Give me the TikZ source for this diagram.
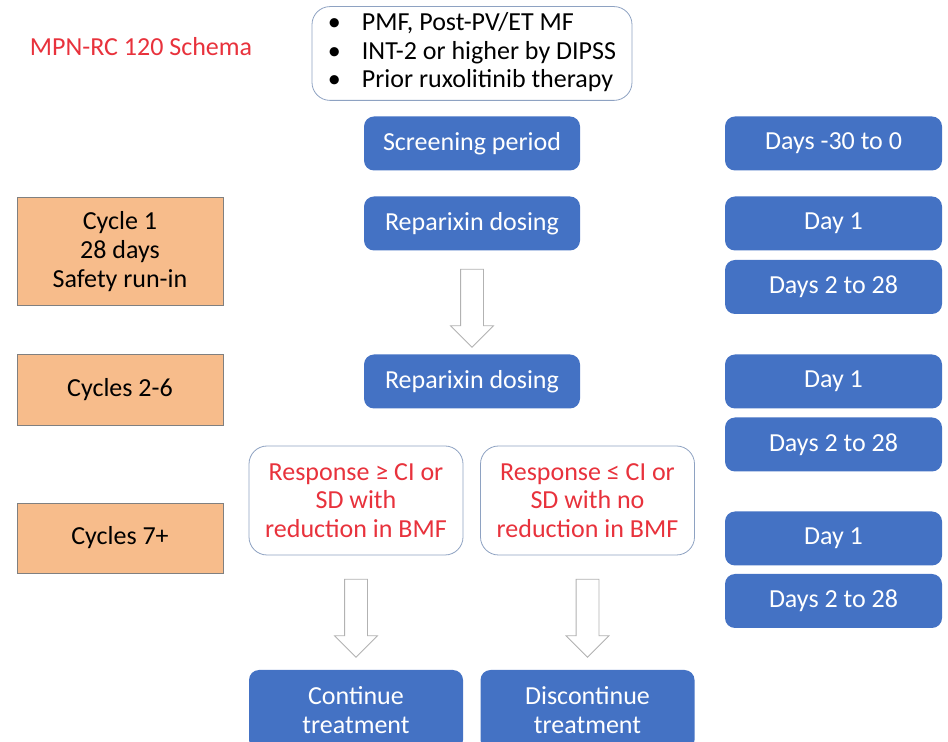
\documentclass[tikz,border=0pt]{standalone}
\usepackage{fontspec}
\setmainfont{Carlito}
\usetikzlibrary{shapes.arrows,calc}

\definecolor{stepblue}{HTML}{4472C4}
\definecolor{cycleorange}{HTML}{F7BC8B}
\definecolor{schemared}{HTML}{E8323C}
\definecolor{outline}{HTML}{8EA2C2}

\tikzset{
	bluebox/.style={rectangle, rounded corners=5pt, fill=stepblue, text=white, minimum width=108pt, minimum height=27pt},
	cyclebox/.style={rectangle, fill=cycleorange, draw=gray, minimum width=103pt},
	outcomebox/.style={rectangle, rounded corners=9pt, draw=outline, fill=white, text=schemared, minimum width=107pt, minimum height=54.5pt},
	hollow/.style={single arrow, draw=gray!60, fill=white, rotate=-90, minimum height=39pt, minimum width=21pt, inner sep=5.5pt, single arrow head extend=5pt}
}

\begin{document}
\begin{tikzpicture}[x=0.5pt, y=-0.5pt, every node/.style={font=\fontsize{13}{14.3}\selectfont, align=center, inner sep=2pt}]
		\useasboundingbox (0,0) rectangle (948,742);

		\node[text=schemared] (title) at (141,47) {MPN-RC 120 Schema};
		\node[outcomebox, text=black, minimum width=160pt, minimum height=43.5pt] (criteria) at (472,53.5) {%
			\begin{tabular}{@{}l@{\hspace{10.5pt}}l@{}}
				\textbullet & PMF, Post-PV/ET MF\\
				\textbullet & INT-2 or higher by DIPSS\\
				\textbullet & Prior ruxolitinib therapy
			\end{tabular}};

		\node[bluebox] (screen) at (472,143.5) {Screening period};
		\node[bluebox] (dose1) at (472,223.5) {Reparixin dosing};
		\node[bluebox] (dose2) at (472,381.5) {Reparixin dosing};

		\node[cyclebox, minimum height=54pt] (cycle1) at (120,251.5) {Cycle 1\\28 days\\Safety run-in};
		\node[cyclebox, minimum height=35.5pt] (cycle2) at (120,389.5) {Cycles 2-6};
		\node[cyclebox, minimum height=35pt] (cycle7) at (120,538) {Cycles 7+};

		\node[bluebox, minimum width=108.5pt] (days0) at (833.5,143.5) {Days -30 to 0};
		\node[bluebox, minimum width=108.5pt] (dayA) at (833.5,223.5) {Day 1};
		\node[bluebox, minimum width=108.5pt] (restA) at (833.5,287) {Days 2 to 28};
		\node[bluebox, minimum width=108.5pt] (dayB) at (833.5,381.5) {Day 1};
		\node[bluebox, minimum width=108.5pt] (restB) at (833.5,444.5) {Days 2 to 28};
		\node[bluebox, minimum width=108.5pt] (dayC) at (833.5,538.5) {Day 1};
		\node[bluebox, minimum width=108.5pt] (restC) at (833.5,601) {Days 2 to 28};

		\node[outcomebox] (respup) at (356,500.5) {Response ≥ CI or\\SD with\\reduction in BMF};
		\node[outcomebox] (respdown) at (587.5,500.5) {Response ≤ CI or\\SD with no\\reduction in BMF};

		\node[bluebox, minimum width=107pt, minimum height=40pt] (cont) at (356,710) {Continue\\treatment};
		\node[bluebox, minimum width=107pt, minimum height=40pt] (stop) at (587.5,710) {Discontinue\\treatment};

		\node[hollow] (arrowdose) at ($(dose1.south)!0.5!(dose2.north)$) {};
		\node[hollow] (arrowcont) at ($(respup.south)!0.5!(cont.north)$) {};
		\node[hollow] (arrowstop) at ($(respdown.south)!0.5!(stop.north)$) {};
	\end{tikzpicture}
\end{document}
